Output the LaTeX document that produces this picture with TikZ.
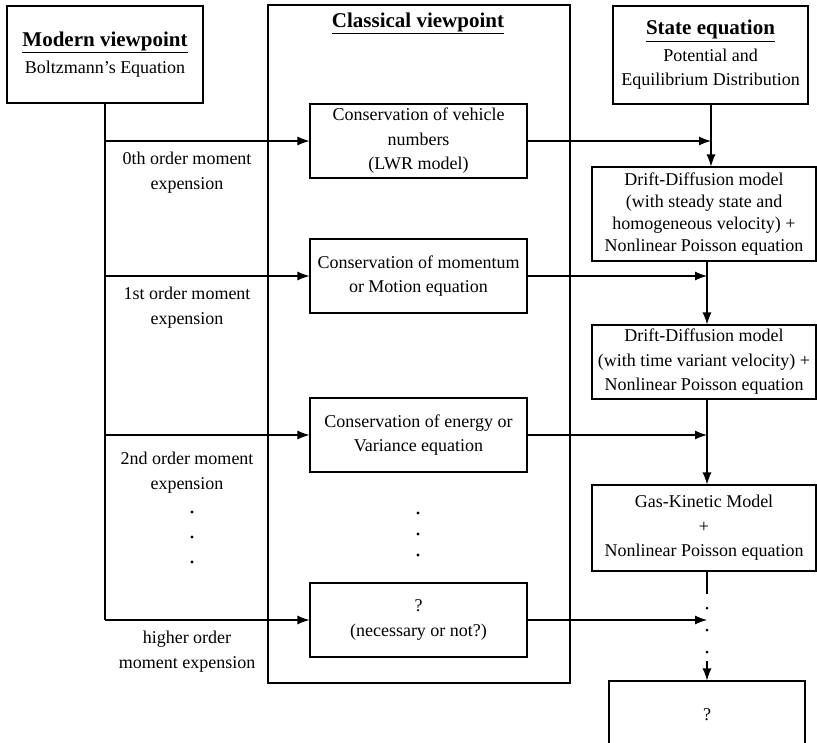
\documentclass[tikz,border=0pt]{standalone}
\usepackage{fontspec}
\setmainfont{Liberation Serif}
\usetikzlibrary{arrows.meta}

\newcommand{\headline}[1]{{\fontsize{21}{27}\selectfont\underline{\textbf{#1}}}}

\begin{document}
\begin{tikzpicture}
[x=1pt,y=-1pt,font=\fontsize{18}{24.5}\selectfont,
  lineDecorate/.style={-,line width=1.1pt},%
  arrowDecorate/.style={-{Latex[length=12pt,width=9pt]},line width=1.1pt},%
  boxDecorate/.style={draw,line width=1.1pt,align=center,inner sep=0pt,minimum width=#1},%
  boxDecorate/.default=217pt,
  labelDecorate/.style={align=center,inner sep=0pt}]
\clip (0,0) rectangle (817,742);
%% viewpoint boxes
\node (modern) at (105,54.5) [boxDecorate=196pt,minimum height=97pt]
  {\headline{Modern viewpoint}\\[2pt]Boltzmann's Equation};
\node (classical) at (419,344) [boxDecorate=302pt,minimum height=678pt] {};
\node (classTitle) at (418,23) {\headline{Classical viewpoint}};
\node (state) at (710.5,55) [boxDecorate=195pt,minimum height=98pt]
  {\headline{State equation}\\[2pt]Potential and\\Equilibrium Distribution};
%% classical boxes
\foreach \nodename/\y/\txt in {
  b1/141/{Conservation of vehicle\\numbers\\(LWR model)},
  b2/276/{Conservation of momentum\\or Motion equation},
  b3/435/{Conservation of energy or\\Variance equation},
  b4/620/{?\\(necessary or not?)}}
{
  \node (\nodename) at (418.5,\y) [boxDecorate,minimum height=74pt] {\txt};
}
%% state equation side
\node (dd1) at (704,214) [boxDecorate=224pt,minimum height=94pt,font=\fontsize{18}{22}\selectfont]
  {Drift-Diffusion model\\(with steady state and\\homogeneous velocity) +\\Nonlinear Poisson equation};
\node (dd2) at (704,362) [boxDecorate=224pt,minimum height=74pt]
  {Drift-Diffusion model\\(with time variant velocity) +\\Nonlinear Poisson equation};
\node (gk) at (704,528) [boxDecorate=224pt,minimum height=86pt]
  {Gas-Kinetic Model\\+\\Nonlinear Poisson equation};
\node (q) at (707,715) [boxDecorate=196pt,minimum height=68pt] {?};
%% moment labels
\foreach \nodename/\y/\txt in {
  lab0/172.5/{0th order moment\\expension},
  lab1/307.5/{1st order moment\\expension},
  lab2/472.5/{2nd order moment\\expension},
  lab3/651.5/{higher order\\moment expension}}
{
  \node (\nodename) at (187,\y) [labelDecorate] {\txt};
}
\foreach \y in {512,537,562} \fill (192,\y) circle (1.6pt);
\foreach \y in {513,534,555} \fill (418,\y) circle (1.6pt);
\foreach \y in {608,630,652} \fill (707,\y) circle (1.5pt);
%% branch points
\foreach \i/\y in {1/141, 2/276, 3/435, 4/620}
{
  \coordinate (m\i) at (105,\y);
}
\coordinate (s1) at (711,141);
\coordinate (s2) at (707,276);
\coordinate (s3) at (707,435);
\coordinate (s4) at (707,620);
\coordinate (d1) at (707,661);
%% edges or lines
\draw[lineDecorate] (modern) -- (m4);
\foreach \i in {1,...,4}
{
  \draw[arrowDecorate] (m\i) -- (b\i);
  \draw[arrowDecorate] (b\i) -- (s\i);
}
\draw[arrowDecorate] (state.south -| s1) -- (dd1.north -| s1);
\draw[arrowDecorate] (dd1.south -| s2) -- (dd2.north -| s2);
\draw[arrowDecorate] (dd2.south -| s3) -- (gk.north -| s3);
\draw[lineDecorate] (gk.south -| s4) -- ++(0,22);
\draw[arrowDecorate] (d1) -- (q.north -| d1);
\end{tikzpicture}
\end{document}
